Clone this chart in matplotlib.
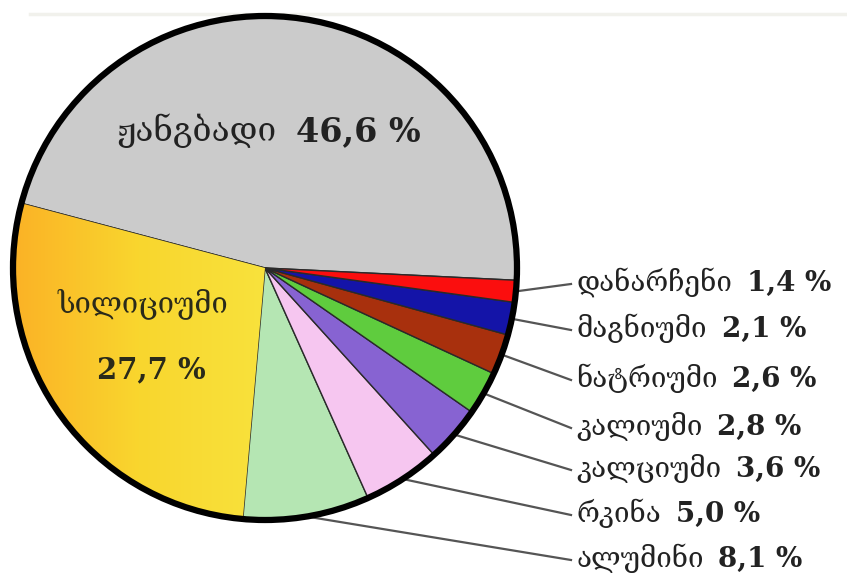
import numpy as np
import matplotlib
matplotlib.use("Agg")
import matplotlib.pyplot as plt
from matplotlib.patches import Circle

# composition of the earth's crust, percent
names = ["ჟანგბადი", "სილიციუმი", "ალუმინი", "რკინა", "კალციუმი",
         "კალიუმი", "ნატრიუმი", "მაგნიუმი", "დანარჩენი"]
values = [46.6, 27.7, 8.1, 5.0, 3.6, 2.8, 2.6, 2.1, 1.4]
value_text = ["46,6", "27,7", "8,1", "5,0", "3,6", "2,8", "2,6", "2,1", "1,4"]
colors = ["#cbcbcb", "#f9d62e", "#b5e6b3", "#f6c6f0", "#8763d2",
          "#5fcc3e", "#a8300d", "#1414a8", "#fb0e0e"]

W, H = 847, 583
cx, cy, r = 265, H - 268, 252

plt.rcParams["font.family"] = ["DejaVu Serif", "DejaVu Sans"]

fig = plt.figure(figsize=(W / 100, H / 100), dpi=100)
ax = fig.add_axes([0, 0, 1, 1])

wedges, _ = ax.pie(values, colors=colors, startangle=-2.8, center=(cx, cy),
                   radius=r, frame=True,
                   wedgeprops=dict(edgecolor="#2a2a2a", linewidth=1.0))
ax.set_xlim(0, W)
ax.set_ylim(0, H)
ax.set_aspect("equal")
ax.axis("off")

# faint page edge at the top
ax.plot([30, W], [H - 14, H - 14], color="#f1f1ec", lw=2.5, zorder=0)

# orange-to-yellow shading on the silicon wedge
grad = np.linspace(0, 1, 256)[None, :]
cmap = matplotlib.colors.LinearSegmentedColormap.from_list(
    "sil", ["#fbb226", "#f9d62e", "#f8e23c"])
im = ax.imshow(grad, cmap=cmap, extent=(cx - r, cx, cy - r, cy + r),
               aspect="auto", zorder=1.5)
im.set_clip_path(wedges[1])

ax.add_patch(Circle((cx, cy), r, fill=False, edgecolor="black", lw=4.5, zorder=3))

fig.canvas.draw()
renderer = fig.canvas.get_renderer()


def label(x, y, name, num, size, gap=10, color="#222222"):
    # name in regular weight, number in bold right after it
    t = ax.text(x, y, name, fontsize=size, ha="left", va="baseline",
                color=color, zorder=4)
    bb = t.get_window_extent(renderer)
    x1 = ax.transData.inverted().transform((bb.x1, bb.y0))[0]
    ax.text(x1 + gap, y, num, fontsize=size, fontweight="bold", ha="left",
            va="baseline", color=color, zorder=4)


# labels inside the two big wedges
label(116, H - 141, names[0], f"{value_text[0]} %", 24, gap=20)
ax.text(143, H - 312, names[1], fontsize=21, ha="center", va="baseline",
        color="#2a2a1a", zorder=4)
ax.text(151, H - 378, f"{value_text[1]} %", fontsize=21, fontweight="bold",
        ha="center", va="baseline", color="#2a2a1a", zorder=4)

# leader lines for the small wedges
label_y = [560, 515, 470, 428, 380, 330, 284]
for w, name, vt, ly in zip(wedges[2:], names[2:], value_text[2:], label_y):
    mid = np.deg2rad((w.theta1 + w.theta2) / 2)
    x0 = cx + r * np.cos(mid)
    y0 = cy + r * np.sin(mid)
    ax.plot([x0, 571], [y0, H - ly], color="#555555", lw=1.6, zorder=2)
    label(576, H - ly - 7, name, f"{vt} %", 20, gap=15)

fig.savefig("out.png", dpi=100)
